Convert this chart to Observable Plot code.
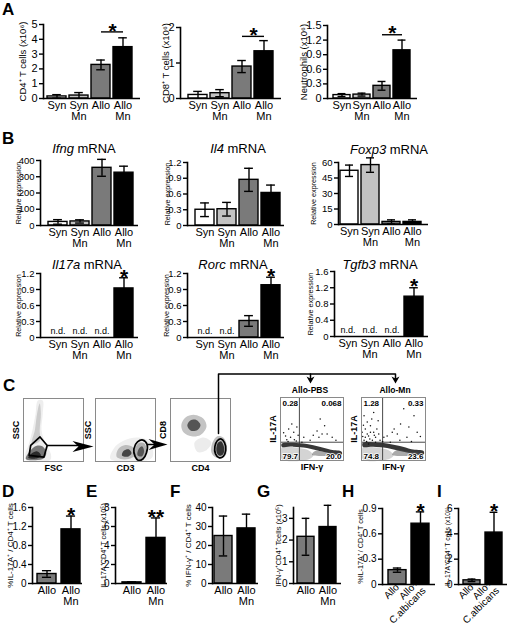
<!DOCTYPE html>
<html><head><meta charset="utf-8">
<script src="https://cdn.jsdelivr.net/npm/d3@7"></script>
<script src="https://cdn.jsdelivr.net/npm/@observablehq/plot@0.6"></script>
<style>
html,body{margin:0;padding:0;background:#fff;}
#fig{position:relative;width:520px;height:629px;overflow:hidden;font-family:"Liberation Sans",Arial,Helvetica,sans-serif;color:#000;background:#fff;}
#fig svg{position:absolute;overflow:visible;background:transparent;}
.lbl{position:absolute;white-space:nowrap;line-height:1;}
</style></head><body><div id="fig"></div><script>
// ---------- data ----------
const groups4 = ["Syn","Syn Mn","Allo","Allo Mn"];
const groups2 = ["Allo","Allo Mn"];
const groupsC = ["Allo","Allo+ C.albicans"];
const groupLabels = {"Syn":"Syn","Syn Mn":"Syn\nMn","Allo":"Allo","Allo Mn":"Allo\nMn","Allo+ C.albicans":"Allo+\nC.albicans"};
const groupFills = {"Syn":"#ffffff","Syn Mn":"#c2c2c2","Allo":"#7a7a7a","Allo Mn":"#000000","Allo+ C.albicans":"#000000"};

const cd4Mean = [0.14,0.2,2.27,3.47],   cd4Err = [0.12,0.2,0.33,0.63];
const cd8Mean = [0.1,0.15,0.9,1.33],    cd8Err = [0.1,0.1,0.17,0.3];
const neuMean = [0.07,0.08,0.26,0.99],  neuErr = [0.03,0.03,0.09,0.21];
const ifngMean = [22,25,355,325],       ifngErr = [14,10,52,40];
const il4Mean = [0.3,0.31,0.87,0.62],   il4Err = [0.13,0.13,0.22,0.15];
const foxp3Mean = [52,57.5,2.5,2.5],    foxp3Err = [5.5,7,2,2];
const il17aMean = [null,null,null,0.92],tgfb3Mean = [null,null,null,0.98];
const il17aErr = [0,0,0,0.2],           tgfb3Err = [0,0,0,0.22];
const rorcMean = [null,null,0.31,0.98], rorcErr = [0,0,0.1,0.15];
const dMean = [0.2,1.14], dErr = [0.07,0.28];
const eMean = [0.12,4.8], eErr = [0.05,2.1];
const fMean = [25,29],    fErr = [10.5,7.5];
const gMean = [2.15,2.6], gErr = [0.85,1.0];
const hMean = [0.17,0.72],hErr = [0.025,0.14];
const iMean = [0.33,4.1], iErr = [0.1,1.6];

const ticks5 = [0,1,2,3,4,5], ticks2 = [0,1,2], ticks15 = [0,0.3,0.6,0.9,1.2,1.5];
const ticks400 = [0,100,200,300,400], ticks12 = [0,0.3,0.6,0.9,1.2], ticks60 = [0,15,30,45,60];
const ticks16 = [0,0.4,0.8,1.2,1.6], ticks8 = [0,2,4,6,8], ticks40 = [0,10,20,30,40];
const ticks3 = [0,1,2,3], ticks09 = [0,0.3,0.6,0.9], ticks6 = [0,2,4,6];

// flow cytometry density outlines (units 0-100 of each plot)
const fscClouds = [
  {fill:"#eeeeee", pts:[[8,25],[15,50],[20,75],[24,97],[32,97],[32,75],[30,50],[36,30],[46,10],[44,2],[5,2],[3,12]]},
  {fill:"#cccccc", pts:[[14,28],[19,50],[23,78],[27,92],[29,76],[27,50],[27,32]]},
  {fill:"#777777", pts:[[4,4],[10,16],[22,25],[32,24],[38,14],[34,5],[20,2]]},
  {fill:"#2a2a2a", pts:[[8,6],[14,13],[23,16],[29,10],[23,5]]}
];
const fscGate = [[12,25.5],[27.5,39],[39.5,25.5],[34,7],[9.3,9.6]];
const cd3Clouds = [
  {fill:"#efefef", pts:[[25,4],[30,20],[45,32],[70,38],[90,32],[96,10],[90,3]]},
  {fill:"#bdbdbd", pts:[[35,8],[38,20],[50,26],[63,22],[66,10],[55,4],[42,4]]},
  {fill:"#444444", pts:[[44,10],[47,17],[56,19],[60,13],[55,8],[47,8]]},
  {fill:"#b0b0b0", pts:[[64,8],[66,22],[74,30],[82,28],[85,16],[80,5],[70,3]]},
  {fill:"#555555", pts:[[70,10],[72,20],[78,24],[81,16],[77,8]]}
];
const cd3Gate = [[66,8],[64,20],[70,31],[79,34],[86,27],[85,14],[79,4],[71,2]];
const cd4Clouds = [
  {fill:"#ececec", pts:[[40,30],[55,38],[68,30],[60,18],[45,15]]},
  {fill:"#c4c4c4", pts:[[18,58],[25,70],[40,74],[55,68],[60,55],[50,42],[35,40],[22,46]]},
  {fill:"#555555", pts:[[28,57],[33,65],[43,66],[50,58],[45,50],[34,49]]},
  {fill:"#c0c0c0", pts:[[68,15],[70,30],[78,40],[88,38],[94,25],[92,10],[84,5],[74,7]]},
  {fill:"#333333", pts:[[77,14],[78,28],[84,32],[89,24],[88,12],[82,9]]}
];
const cd4Gate = [[75,12],[74,24],[78,33],[84,36],[90,30],[92,18],[88,8],[81,6]];
const pbsClouds = [
  {fill:"#d4d4d4", pts:[[2,2],[45,2],[52,8],[45,16],[30,20],[12,22],[2,21]]},
  {fill:"#151515", op:0.85, pts:[[2,27],[20,28],[42,26],[62,22],[80,17],[97,14],[97,9],[80,11],[62,15],[42,20],[20,22],[2,22]]},
  {fill:"#555555", op:0.5, pts:[[50,9],[70,7],[88,8],[90,11],[75,13],[55,15]]}
];
const mnClouds = [
  {fill:"#d4d4d4", pts:[[2,2],[42,2],[50,8],[43,16],[28,20],[10,22],[2,21]]},
  {fill:"#151515", op:0.85, pts:[[2,28],[18,29],[40,27],[60,23],[78,18],[97,15],[97,9],[78,11],[60,15],[40,20],[18,22],[2,22]]},
  {fill:"#555555", op:0.5, pts:[[48,9],[68,7],[88,8],[90,12],[74,14],[54,16]]}
];
const pbsDots = [[18,58],[13,50],[21,45],[26,53],[8,39],[16,37],[63,66],[58,47],[66,42],[61,37],[47,32],[37,37],[74,42],[82,37],[34,29],[10,33],[22,33],[5,44],[28,40],[70,55],[52,40],[88,32],[12,30],[25,31]];
const mnDots = [[66,82],[82,71],[61,58],[51,50],[74,53],[40,39],[56,42],[87,45],[71,37],[45,29],[35,37],[4,71],[9,61],[6,50],[14,55],[19,45],[11,39],[22,37],[4,32],[17,32],[24,50],[26,63],[19,76],[9,42],[6,37],[14,45],[22,29],[29,32],[1,45],[11,26],[3,56],[16,66],[8,30],[27,42],[2,38],[13,34],[20,40],[60,32],[78,30],[92,38],[48,45],[33,30]];
const pbsQuad = ["0.28","0.068","79.7","20.0"];
const mnQuad = ["1.28","0.33","74.8","23.6"];

// connector arrows of panel C (page coordinates)
const connectors = [
  {id:"a1",x:47,y:445},{id:"a1",x:80,y:445},
  {id:"a2",x:147,y:444},{id:"a2",x:158,y:444},
  {id:"c",x:218,y:433},{id:"c",x:218,y:373.5},{id:"c",x:395,y:373.5},{id:"c",x:395,y:378},
  {id:"d",x:310,y:373.5},{id:"d",x:310,y:378}
];
const arrowHeads = [
  {id:"h1",x:93,y:446},{id:"h1",x:72,y:440.5},{id:"h1",x:78,y:446},{id:"h1",x:72,y:451.5},
  {id:"h2",x:167,y:444},{id:"h2",x:148,y:438.5},{id:"h2",x:154,y:444},{id:"h2",x:148,y:449.5},
  {id:"h3",x:310,y:383},{id:"h3",x:306,y:376},{id:"h3",x:310,y:378},{id:"h3",x:314,y:376},
  {id:"h4",x:395,y:383},{id:"h4",x:391,y:376},{id:"h4",x:395,y:378},{id:"h4",x:399,y:376}
];

// ---------- drawing ----------
const fig = document.getElementById("fig");
const FONT = "'Liberation Sans', Arial, Helvetica, sans-serif";
const NARROW = "'Liberation Sans Narrow', 'Liberation Sans', Arial, sans-serif";

function addText(html, x, y, {size=11, weight="normal", anchor="middle"}={}) {
  const d = document.createElement("div");
  d.className = "lbl";
  d.innerHTML = html;
  d.style.fontSize = size + "px";
  d.style.fontWeight = weight;
  d.style.left = x + "px";
  d.style.top = y + "px";
  const tx = anchor === "middle" ? "-50%" : anchor === "end" ? "-100%" : "0";
  d.style.transform = `translate(${tx},-50%)`;
  fig.appendChild(d);
}

function barChart(c) {
  const L = c.labelX - 14, R = c.xRight + 10, T = c.yTop - 28, B = c.bottom;
  const W = R - L, H = B - T;
  const rows = c.groups.map((g, i) => ({g, v: c.means[i], e: c.errs[i]}));
  const bars = rows.filter(d => d.v != null);
  const n = c.groups.length;
  const pi = c.pi ?? 0.13;
  const step = (c.bars[1] - c.bars[0]) / (n - pi);
  const bw = step * (1 - pi);
  const cap = bw * 0.26;
  const sw = 1.4;
  const marks = [
    Plot.barY(bars, {x: "g", y: "v", fill: d => groupFills[d.g], stroke: "#000", strokeWidth: sw}),
    Plot.ruleX(bars, {x: "g", y1: d => Math.max(0, d.v - d.e), y2: d => d.v + d.e, stroke: "#000", strokeWidth: sw}),
    Plot.tickY(bars, {x: "g", y: d => d.v + d.e, insetLeft: cap, insetRight: cap, strokeWidth: sw}),
    Plot.tickY(bars.filter(d => d.v - d.e > 0), {x: "g", y: d => d.v - d.e, insetLeft: cap, insetRight: cap, strokeWidth: sw}),
    Plot.ruleY([0], {strokeWidth: 1.6}),
    Plot.frame({anchor: "left", strokeWidth: 1.6}),
    Plot.axisY({ticks: c.ticks, tickSize: 4, tickPadding: 2, fontSize: c.tickFont ?? 11, fontFamily: c.tickFamily ?? FONT, strokeWidth: 1.4, label: null, tickFormat: d => String(d)}),
    Plot.axisX({tickSize: 0, tickPadding: 3, fontSize: c.xFont ?? 11, lineHeight: 1, label: null, tickFormat: d => groupLabels[d], ...(c.rotate ? {tickRotate: -45, tickPadding: 1} : {})}),
    Plot.text([c.ylabel], {frameAnchor: "left", textAnchor: "middle", rotate: -90, dx: -(c.axisX - c.labelX), fontSize: c.labelFont, fontFamily: c.labelFamily ?? FONT, text: d => d})
  ];
  if (c.nd) marks.push(Plot.text(rows.filter(d => d.v == null), {x: "g", y: () => 0, text: () => "n.d.", dy: -6, fontSize: 9}));
  if (c.stars) marks.push(Plot.text(bars.filter(d => c.stars[d.g]), {x: "g", y: d => d.v + d.e, text: d => c.stars[d.g], dy: -1, fontSize: 21, fontWeight: "bold"}));
  if (c.sig != null) marks.push(
    Plot.link([c.sig], {x1: () => "Allo", x2: () => "Allo Mn", y1: d => d, y2: d => d, strokeWidth: 1.4}),
    Plot.text([c.sig], {x: () => "Allo", y: d => d, text: () => "*", dx: step / 2, dy: -1, fontSize: 21, fontWeight: "bold"})
  );
  const p = Plot.plot({
    width: W, height: H,
    marginLeft: c.axisX - L, marginRight: R - c.xRight, marginTop: c.yTop - T, marginBottom: B - c.yZero,
    x: {domain: c.groups, range: [c.bars[0] - L, c.bars[1] - L], paddingInner: pi, paddingOuter: 0, align: 0},
    y: {domain: [0, c.yMax]},
    style: {fontFamily: FONT, fontSize: "11px", background: "transparent", overflow: "visible", color: "#000"},
    marks
  });
  p.style.left = L + "px"; p.style.top = T + "px";
  fig.appendChild(p);
}

function flowPlot(c) {
  const [x0, y0, x1, y1] = c.frame;
  const marks = [];
  for (const s of c.clouds) marks.push(Plot.line(s.pts, {x: d => d[0], y: d => d[1], curve: "catmull-rom-closed", fill: s.fill, fillOpacity: s.op ?? 1, stroke: "none"}));
  if (c.quad) {
    marks.push(Plot.ruleX([c.qx], {stroke: "#333", strokeWidth: 0.9}), Plot.ruleY([c.qy], {stroke: "#333", strokeWidth: 0.9}));
  }
  if (c.dots) marks.push(Plot.dot(c.dots, {x: d => d[0], y: d => d[1], r: 0.75, fill: "#111", stroke: "none"}));
  if (c.gate) marks.push(Plot.line(c.gate, {x: d => d[0], y: d => d[1], curve: c.gateCurve ?? "catmull-rom-closed", stroke: "#000", strokeWidth: 1.7, fill: "none"}));
  marks.push(Plot.frame({stroke: "#8a8a8a", strokeWidth: 1}));
  if (c.quad) {
    const anchors = ["top-left", "top-right", "bottom-left", "bottom-right"];
    c.quad.forEach((q, i) => marks.push(Plot.text([q], {text: d => d, frameAnchor: anchors[i], dx: i % 2 ? -2 : 2, dy: i < 2 ? 3 : -2, fontSize: 8, fontWeight: "bold", fill: "#000", stroke: "#fff", strokeWidth: 1.6, paintOrder: "stroke"})));
  }
  marks.push(
    Plot.text([c.xl], {text: d => d, frameAnchor: "bottom", textAnchor: "middle", dy: 9, fontSize: 9, fontWeight: "bold"}),
    Plot.text([c.yl], {text: d => d, frameAnchor: "left", textAnchor: "middle", rotate: -90, dx: -7, fontSize: 9, fontWeight: "bold"})
  );
  const p = Plot.plot({
    width: x1 - x0, height: y1 - y0, margin: 0,
    x: {domain: [0, 100], axis: null}, y: {domain: [0, 100], axis: null},
    style: {fontFamily: FONT, background: "transparent", overflow: "visible", color: "#000"},
    marks
  });
  p.style.left = x0 + "px"; p.style.top = y0 + "px";
  fig.appendChild(p);
}

// ---- Panel A ----
barChart({groups: groups4, means: cd4Mean, errs: cd4Err, axisX: 43, xRight: 140, bars: [47, 136], yTop: 24, yZero: 98, yMax: 5, ticks: ticks5, labelX: 22, ylabel: "CD4⁺ T cells (x10⁶)", labelFont: 9.5, bottom: 122, sig: 4.5});
barChart({groups: groups4, means: cd8Mean, errs: cd8Err, axisX: 180, xRight: 281, bars: [188, 277], yTop: 27, yZero: 98, yMax: 2, ticks: ticks2, labelX: 165, ylabel: "CD8⁺ T cells (x10⁶)", labelFont: 9.5, bottom: 122, sig: 1.75});
barChart({groups: groups4, means: neuMean, errs: neuErr, axisX: 327, xRight: 417, bars: [333, 412], pi: 0.15, yTop: 25, yZero: 98, yMax: 1.5, ticks: ticks15, labelX: 303, ylabel: "Neutrophils (x10⁶)", labelFont: 9.5, bottom: 122, sig: 1.31});

// ---- Panel B ----
const bCommon = {groups: groups4, tickFont: 9.5, tickFamily: NARROW, labelFont: 7.2, labelFamily: FONT};
barChart({...bCommon, means: ifngMean, errs: ifngErr, axisX: 40, xRight: 138, bars: [48, 135], yTop: 160, yZero: 225, yMax: 400, ticks: ticks400, labelX: 18, ylabel: "Relative expression", bottom: 248});
barChart({...bCommon, means: il4Mean, errs: il4Err, axisX: 187, xRight: 284, bars: [195, 282], yTop: 162, yZero: 225, yMax: 1.2, ticks: ticks12, labelX: 167, ylabel: "Relative expression", bottom: 248});
barChart({...bCommon, means: foxp3Mean, errs: foxp3Err, axisX: 338, xRight: 428, bars: [340, 425], yTop: 162, yZero: 224, yMax: 60, ticks: ticks60, labelX: 313, ylabel: "Relative expression", bottom: 248});
barChart({...bCommon, means: il17aMean, errs: il17aErr, axisX: 40, xRight: 138, bars: [48, 135], yTop: 273, yZero: 337, yMax: 1.2, ticks: ticks12, labelX: 18, ylabel: "Relative expression", bottom: 360, nd: true, stars: {"Allo Mn": "*"}});
barChart({...bCommon, means: rorcMean, errs: rorcErr, axisX: 187, xRight: 284, bars: [195, 282], yTop: 273, yZero: 337, yMax: 1.2, ticks: ticks12, labelX: 166, ylabel: "Relative expression", bottom: 360, nd: true, stars: {"Allo Mn": "*"}});
barChart({...bCommon, means: tgfb3Mean, errs: tgfb3Err, axisX: 334, xRight: 428, bars: [338, 427], yTop: 271, yZero: 336, yMax: 1.6, ticks: ticks16, labelX: 310, ylabel: "Relative expression", bottom: 360, nd: true, stars: {"Allo Mn": "*"}});

// ---- Panels D-I ----
const dCommon = {tickFont: 10, tickFamily: NARROW, pi: 0.21, bottom: 610};
barChart({...dCommon, groups: groups2, means: dMean, errs: dErr, axisX: 32, xRight: 82, bars: [37, 80], yTop: 507, yZero: 583, yMax: 1.6, ticks: ticks16, labelX: 10, ylabel: "%IL-17A⁺ / CD4⁺ T cells", labelFont: 8, stars: {"Allo Mn": "*"}});
barChart({...dCommon, groups: groups2, means: eMean, errs: eErr, axisX: 115, xRight: 167, bars: [122, 165], yTop: 507, yZero: 583, yMax: 8, ticks: ticks8, labelX: 103, ylabel: "IL-17A⁺CD4⁺ T cells (x10⁵)", labelFont: 7.3, stars: {"Allo Mn": "**"}});
barChart({...dCommon, groups: groups2, means: fMean, errs: fErr, axisX: 212, xRight: 258, bars: [214, 256], yTop: 507, yZero: 583, yMax: 40, ticks: ticks40, labelX: 188, ylabel: "% IFN-γ⁺ / CD4⁺ T cells", labelFont: 8});
barChart({...dCommon, groups: groups2, means: gMean, errs: gErr, axisX: 293, xRight: 341, bars: [297, 338], yTop: 507, yZero: 583, yMax: 3.5, ticks: ticks3, labelX: 278, ylabel: "IFN-γ⁺CD4⁺ Tcells (x10⁵)", labelFont: 7.5});
barChart({...dCommon, groups: groupsC, means: hMean, errs: hErr, axisX: 382, xRight: 435, bars: [388, 430], yTop: 508, yZero: 584, yMax: 0.9, ticks: ticks09, labelX: 360, ylabel: "%IL-17A⁺ / CD4⁺ T cells", labelFont: 7.2, stars: {"Allo+ C.albicans": "*"}, rotate: true, xFont: 10, bottom: 629});
barChart({...dCommon, groups: groupsC, means: iMean, errs: iErr, axisX: 458, xRight: 507, bars: [463, 503], yTop: 508, yZero: 584, yMax: 6, ticks: ticks6, labelX: 447, ylabel: "IL-17A⁺CD4⁺ T cells (x10⁵)", labelFont: 6.8, stars: {"Allo+ C.albicans": "*"}, rotate: true, xFont: 10, bottom: 629});

// ---- Panel C ----
flowPlot({frame: [23, 398, 83, 461], clouds: fscClouds, gate: fscGate, gateCurve: "linear-closed", xl: "FSC", yl: "SSC"});
flowPlot({frame: [95, 398, 155, 461], clouds: cd3Clouds, gate: cd3Gate, xl: "CD3", yl: "SSC"});
flowPlot({frame: [170, 398, 230, 461], clouds: cd4Clouds, gate: cd4Gate, xl: "CD4", yl: "CD8"});
flowPlot({frame: [280, 397, 343, 460], clouds: pbsClouds, dots: pbsDots, quad: pbsQuad, qx: 30, qy: 29, xl: "IFN-γ", yl: "IL-17A"});
flowPlot({frame: [361, 397, 425, 460], clouds: mnClouds, dots: mnDots, quad: mnQuad, qx: 33, qy: 29, xl: "IFN-γ", yl: "IL-17A"});

const overlay = Plot.plot({
  width: 520, height: 110, margin: 0,
  x: {domain: [0, 520], axis: null}, y: {domain: [365, 475], reverse: true, axis: null},
  style: {background: "transparent", overflow: "visible"},
  marks: [
    Plot.line(connectors, {x: "x", y: "y", z: "id", stroke: "#000", strokeWidth: 1.5}),
    Plot.line(arrowHeads, {x: "x", y: "y", z: "id", fill: "#000", stroke: "none", curve: "linear-closed"})
  ]
});
overlay.style.left = "0px"; overlay.style.top = "365px";
fig.appendChild(overlay);

// ---- text ----
addText("A", 2, 9, {size: 17, weight: "bold", anchor: "start"});
addText("B", 2, 137.5, {size: 17, weight: "bold", anchor: "start"});
addText("C", 3, 385, {size: 17, weight: "bold", anchor: "start"});
addText("D", 2, 491, {size: 17, weight: "bold", anchor: "start"});
addText("E", 86, 491, {size: 17, weight: "bold", anchor: "start"});
addText("F", 170, 491, {size: 17, weight: "bold", anchor: "start"});
addText("G", 257, 491, {size: 17, weight: "bold", anchor: "start"});
addText("H", 342, 491, {size: 17, weight: "bold", anchor: "start"});
addText("I", 437, 491, {size: 17, weight: "bold", anchor: "start"});

addText("<i>Ifng</i> mRNA", 84, 148, {size: 13});
addText("<i>Il4</i> mRNA", 238, 148, {size: 13});
addText("<i>Foxp3</i> mRNA", 389, 149, {size: 13});
addText("<i>Il17a</i> mRNA", 87, 264, {size: 13});
addText("<i>Rorc</i> mRNA", 233, 264, {size: 13});
addText("<i>Tgfb3</i> mRNA", 380, 264, {size: 13});

addText("Allo-PBS", 310, 390, {size: 8.5, weight: "bold"});
addText("Allo-Mn", 395, 390, {size: 8.5, weight: "bold"});
</script></body></html>
